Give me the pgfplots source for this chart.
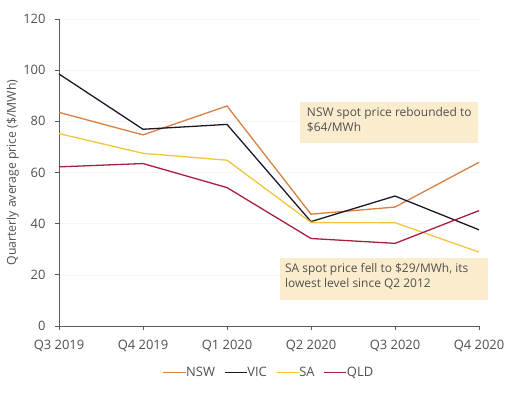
\documentclass[border=0pt]{standalone}
\usepackage{pgfplots}
\pgfplotsset{compat=1.18}
\usepackage{fontspec}
\setmainfont{Open Sans}
\definecolor{nsw}{RGB}{214,128,66}
\definecolor{vic}{RGB}{32,22,44}
\definecolor{sa}{RGB}{240,198,60}
\definecolor{qld}{RGB}{168,30,62}
\definecolor{boxc}{RGB}{252,236,206}
\definecolor{txt}{RGB}{80,80,80}
\definecolor{axc}{RGB}{90,90,90}
\begin{document}
\begin{tikzpicture}
\path[use as bounding box] (-59bp,-72bp) rectangle (452bp,326bp);
\begin{axis}[
  scale only axis, width=420bp, height=307bp,
  xmin=0, xmax=5, ymin=0, ymax=120,
  xtick={0,1,2,3,4,5},
  xticklabels={Q3 2019,Q4 2019,Q1 2020,Q2 2020,Q3 2020,Q4 2020},
  ytick={0,20,40,60,80,100,120},
  axis lines*=left,
  axis line style={axc, line width=0.8pt},
  tick style={axc, line width=0.8pt},
  tick align=outside,
  major tick length=4bp,
  ymajorgrids, grid style={gray!8, line width=0.6pt},
  ticklabel style={font=\fontsize{13}{15}\selectfont, text=txt},
  xticklabel style={yshift=-7bp},
  yticklabel style={xshift=-6bp},
  /pgf/number format/assume math mode=true,
  ylabel={Quarterly average price (\$/MWh)},
  ylabel style={font=\fontsize{12.3}{14}\selectfont, text=txt, at={(axis description cs:-0.11,0.5)}, anchor=center},
  legend style={at={(0.5,-0.152)}, anchor=center, draw=none, legend columns=4, font=\fontsize{13}{15}\selectfont, text=txt, /tikz/every even column/.append style={column sep=7bp}, legend cell align=left, /tikz/every odd column/.append style={column sep=-2bp}},
  legend image code/.code={\draw[#1] (0cm,0cm) -- (0.78cm,0cm);},
  every axis plot/.append style={line width=1.3pt},
  clip=false,
]
\fill[boxc] (axis cs:2.87,71.5) rectangle (axis cs:4.99,87.6);
\node[anchor=north west, align=left, text=txt, font=\fontsize{12}{15}\selectfont, inner sep=0pt] at (axis cs:2.95,85.6) {NSW spot price rebounded to\\\$64/MWh};
\fill[boxc] (axis cs:2.63,10.2) rectangle (axis cs:5.11,26.6);
\node[anchor=north west, align=left, text=txt, font=\fontsize{12}{15}\selectfont, inner sep=0pt] at (axis cs:2.69,24.6) {SA spot price fell to \$29/MWh, its\\lowest level since Q2 2012};
\addplot[nsw] coordinates {(0,83.5) (1,74.7) (2,86.0) (3,43.7) (4,46.5) (5,64.0)};
\addlegendentry{NSW}
\addplot[vic] coordinates {(0,98.5) (1,76.9) (2,78.8) (3,40.8) (4,50.8) (5,37.6)};
\addlegendentry{VIC}
\addplot[sa] coordinates {(0,75.2) (1,67.5) (2,64.8) (3,40.5) (4,40.4) (5,28.9)};
\addlegendentry{SA}
\addplot[qld] coordinates {(0,62.2) (1,63.5) (2,54.1) (3,34.2) (4,32.3) (5,45.1)};
\addlegendentry{QLD}
\end{axis}
\end{tikzpicture}
\end{document}
